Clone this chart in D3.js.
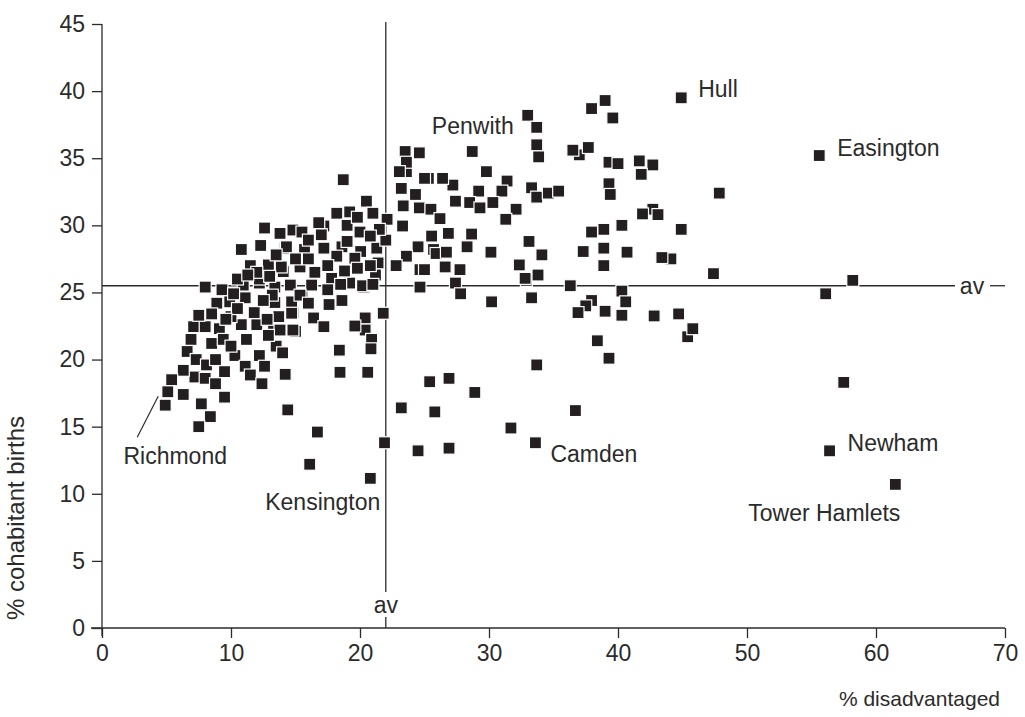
<!DOCTYPE html>
<html><head><meta charset="utf-8">
<script src="https://cdn.jsdelivr.net/npm/d3@7"></script>
<style>body{margin:0;background:#fff}svg{display:block}text{font-family:"Liberation Sans",Arial,sans-serif;fill:#2b2b2b}</style>
</head><body><svg id="c" width="1025" height="717"></svg>
<script>
// % disadvantaged (x) and % cohabitant births (y), one entry per area
const pctDisadvantaged = [
 44.9,39.0,39.6,37.95,33.0,33.7,33.7,33.85,28.7,37.0,36.5,37.7,39.3,40.0,41.65,42.7,41.8,39.3,39.4,47.85,
 42.7,41.9,43.1,40.3,38.9,44.9,37.95,38.9,40.7,37.3,38.9,44.1,43.4,47.4,40.3,40.6,39.0,40.3,42.8,44.7,45.4,45.8,
 55.6,58.2,56.1,57.5,56.4,61.5,
 27.4,27.8,30.2,33.3,36.3,32.9,37.95,37.5,36.9,38.4,39.3,33.7,
 25.4,26.9,28.9,25.8,36.7,31.7,33.6,26.9,24.5,
 21.8,20.4,20.4,20.9,20.85,19.6,18.4,18.45,20.6,14.2,23.2,14.4,16.7,21.9,16.1,20.8,
 17.6,18.6,16.4,17.2,15.0,14.8,15.5,
 8.0,9.3,8.9,9.9,10.95,11.1,12.2,13.4,14.6,
 7.1,8.0,9.1,10.8,12.0,13.3,14.8,
 6.9,8.5,9.4,10.3,12.2,13.5,6.6,7.3,8.1,8.8,9.5,11.1,12.6,7.2,6.3,8.0,8.8,11.5,12.4,5.4,5.1,6.3,4.9,7.7,9.5,8.4,7.5,
 12.6,13.8,14.2,10.8,12.9,14.05,12.2,13.4,14.7,10.0,13.7,14.7,13.8,
 18.7,20.5,21.0,18.2,17.2,19.2,20.0,18.6,20.05,21.3,22.0,22.1,23.3,23.2,23.35,23.6,25.3,24.6,23.5,24.6,25.55,24.5,25.7,23.6,24.65,24.65,
 17.2,15.7,14.3,14.8,17.0,18.2,19.6,21.4,17.8,19.2,20.3,21.2,15.35,16.25,15.35,13.9,23.6,23.05,24.3,25.0,20.2,
 27.2,26.4,29.8,31.4,29.2,31.0,33.3,33.7,34.6,35.4,27.4,28.5,30.3,32.1,31.3,29.3,25.5,26.2,26.85,28.65,
 25.9,26.7,28.3,30.15,33.1,34.1,32.35,32.8,33.8,26.6,27.75,25.0,
 11.5,12.0,13.0,10.5,11.8,12.8,11.2,10.0,12.9,14.0,10.5,16.0,16.5,17.5,18.8,19.8,20.8,16.8,15.5,16.0,
 19.0,19.8,21.5,20.8,22.8,21.0,19.0,17.5,18.5,16.0,15.0,13.5,12.3,13.2,10.2,9.6,7.5,8.5,11.3,12.5
];
const pctCohabitant = [
 39.5,39.3,38.0,38.7,38.2,37.3,36.0,35.1,35.5,35.25,35.6,35.8,34.7,34.6,34.8,34.5,33.8,33.1,32.3,32.4,
 31.2,30.85,30.8,30.0,29.7,29.7,29.5,28.3,28.0,28.05,27.0,27.5,27.6,26.4,25.1,24.3,23.6,23.3,23.25,23.4,21.7,22.3,
 35.2,25.9,24.9,18.3,13.2,10.7,
 25.7,24.9,24.3,24.6,25.5,25.9,24.4,24.0,23.5,21.4,20.1,19.6,
 18.35,18.6,17.55,16.1,16.2,14.9,13.8,13.4,13.2,
 23.45,23.1,22.2,21.5,20.8,22.5,20.7,19.05,19.05,18.9,16.4,16.25,14.6,13.8,12.2,11.15,
 24.1,24.4,23.1,22.45,22.1,23.5,24.8,
 25.4,25.2,24.2,24.3,25.55,24.6,25.7,25.4,25.55,
 22.45,22.45,22.3,22.6,22.6,22.2,22.2,
 21.5,21.2,21.5,20.3,20.3,21.0,20.6,20.0,19.6,20.0,19.1,19.5,19.5,18.7,19.2,18.6,18.2,18.85,18.2,18.5,17.6,17.4,16.6,16.7,17.2,15.75,15.0,
 29.8,29.4,28.3,28.2,27.05,26.55,26.0,24.25,24.3,23.2,23.2,23.45,22.2,
 33.4,31.8,30.9,30.9,29.95,31.0,29.5,28.4,28.05,28.3,28.9,30.45,29.95,32.75,31.45,34.0,33.5,31.3,35.5,35.4,29.2,28.4,28.2,27.7,26.7,25.4,
 28.3,28.2,28.4,29.65,29.3,27.7,27.55,27.2,26.05,25.7,25.4,26.3,26.9,25.55,24.8,26.9,34.7,34.0,32.3,33.5,25.5,
 33.0,33.5,34.0,33.3,32.55,32.55,32.8,32.1,32.4,32.55,31.8,31.7,31.7,31.2,30.45,31.3,31.2,30.5,29.4,29.35,
 27.9,28.0,28.4,28.0,28.8,27.8,27.05,26.05,26.3,26.9,26.7,26.7,
 27.0,26.5,26.2,26.0,23.5,23.0,21.5,21.0,21.8,20.5,23.8,27.5,26.5,27.0,26.6,26.8,27.0,30.2,29.5,28.9,
 30.0,30.6,29.7,29.2,27.0,25.6,28.8,25.2,25.6,24.2,27.5,27.8,28.5,24.8,24.9,23.0,23.3,23.4,26.3,24.4
];
// named areas and their point index in the arrays above
const areaNames  = ["Hull","Penwith","Easington","Richmond","Kensington","Camden","Newham","Tower Hamlets"];
const areaIndex  = [0, 4, 42, 130, 84, 66, 46, 47];
const xTicks = [0,10,20,30,40,50,60,70];
const yTicks = [0,5,10,15,20,25,30,35,40,45];
const avgDisadvantaged = 22.0;
const avgCohabitant = 25.5;

const svg = d3.select("#c");
const x = d3.scaleLinear().domain([0,70]).range([102,1005]);
const y = d3.scaleLinear().domain([0,45]).range([628,24]);
const ink = "#2b2b2b";
const FS = 23;

// axes
const xAxis = svg.append("g").attr("transform","translate(0,628)")
  .call(d3.axisBottom(x).tickValues(xTicks).tickSize(10).tickSizeOuter(0).tickPadding(7));
xAxis.select(".domain").remove();
xAxis.selectAll("line").attr("stroke",ink).attr("stroke-width",1.3);
xAxis.selectAll("text").style("font-size",FS+"px").attr("fill",ink).attr("font-family",null);
svg.append("line").attr("x1",91).attr("x2",1005).attr("y1",628).attr("y2",628).attr("stroke",ink).attr("stroke-width",1.3);

const yAxis = svg.append("g").attr("transform","translate(102,0)")
  .call(d3.axisLeft(y).tickValues(yTicks).tickSize(10).tickSizeOuter(0).tickPadding(7));
yAxis.select(".domain").remove();
yAxis.selectAll("line").attr("stroke",ink).attr("stroke-width",1.3);
yAxis.selectAll("text").style("font-size",FS+"px").attr("fill",ink).attr("font-family",null);
svg.append("line").attr("x1",102).attr("x2",102).attr("y1",y(45)).attr("y2",636).attr("stroke",ink).attr("stroke-width",1.3);

// average lines
const yAv = y(avgCohabitant), xAv = x(avgDisadvantaged);
svg.append("line").attr("x1",102).attr("x2",955).attr("y1",yAv).attr("y2",yAv).attr("stroke",ink).attr("stroke-width",1.3);
svg.append("line").attr("x1",990).attr("x2",1005).attr("y1",yAv).attr("y2",yAv).attr("stroke",ink).attr("stroke-width",1.3);
svg.append("text").attr("x",972).attr("y",yAv).attr("dy","0.35em").attr("text-anchor","middle").style("font-size",FS+"px").text("av");
svg.append("line").attr("x1",xAv).attr("x2",xAv).attr("y1",y(45)-2).attr("y2",592).attr("stroke",ink).attr("stroke-width",1.3);
svg.append("line").attr("x1",xAv).attr("x2",xAv).attr("y1",617).attr("y2",628).attr("stroke",ink).attr("stroke-width",1.3);
svg.append("text").attr("x",xAv).attr("y",605).attr("dy","0.35em").attr("text-anchor","middle").style("font-size",FS+"px").text("av");

// points
const S = 12;
svg.append("g").selectAll("rect").data(pctDisadvantaged.map((d,i)=>[d,pctCohabitant[i]])).join("rect")
  .attr("x",d=>x(d[0])-S/2).attr("y",d=>y(d[1])-S/2).attr("width",S).attr("height",S)
  .attr("fill","#231f20").attr("stroke","#fff").attr("stroke-width",1.2);

// area labels (offsets in px from the point)
const labelOffset = {
  "Hull":[17,-9,"start"], "Penwith":[-14,11,"end"], "Easington":[18,-8,"start"],
  "Richmond":[10,51,"middle"], "Kensington":[10,24,"end"], "Camden":[15,11,"start"],
  "Newham":[18,-8,"start"], "Tower Hamlets":[5,29,"end"]
};
areaNames.forEach((n,k)=>{
  const i = areaIndex[k], px = x(pctDisadvantaged[i]), py = y(pctCohabitant[i]);
  const o = labelOffset[n];
  svg.append("text").attr("x",px+o[0]).attr("y",py+o[1]).attr("dy","0.35em")
    .attr("text-anchor",o[2]).style("font-size",FS+"px").text(n);
});
// Richmond leader line
{
  const i = areaIndex[3], px = x(pctDisadvantaged[i]), py = y(pctCohabitant[i]);
  svg.append("line").attr("x1",px-7).attr("y1",py-9).attr("x2",px-28).attr("y2",py+32)
    .attr("stroke",ink).attr("stroke-width",1.2);
}

// axis titles
svg.append("text").attr("transform","translate(24,518) rotate(-90)").attr("text-anchor","middle")
  .style("font-size","24px").text("% cohabitant births");
svg.append("text").attr("x",1000).attr("y",706).attr("text-anchor","end")
  .style("font-size","21px").text("% disadvantaged");
</script></body></html>
